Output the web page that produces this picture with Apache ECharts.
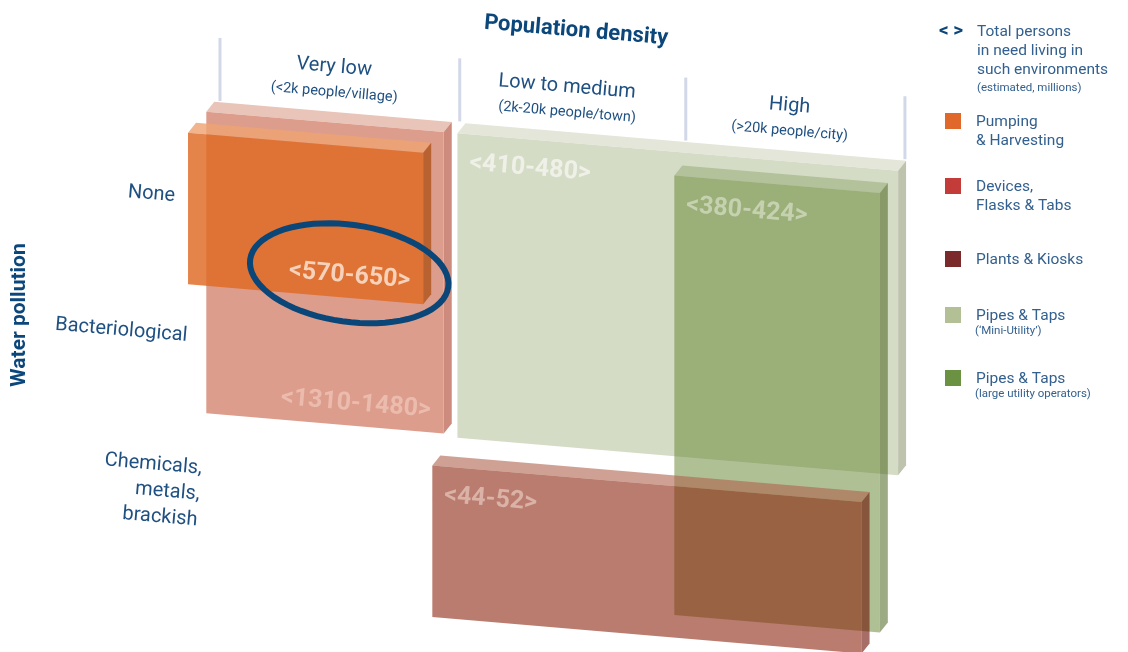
<!DOCTYPE html>
<html>
<head>
<meta charset="utf-8">
<script src="https://cdn.jsdelivr.net/npm/echarts@6/dist/echarts.min.js"></script>
<style>
  html, body { margin: 0; background: #fff; }
  #chart { width: 1128px; height: 652px; }
</style>
</head>
<body>
<div id="chart"></div>
<script>
// columns: population density
const densityNames = ['Very low', 'Low to medium', 'High']
const densityNotes = ['(<2k people/village)', '(2k-20k people/town)', '(>20k people/city)']
const densityEdges = [0, 1.05, 2.04, 3]
// rows: water pollution
const pollutionNames = ['None', 'Bacteriological', 'Chemicals,\nmetals,\nbrackish']

// solutions (legend)
const solutionNames = ['Pumping\n& Harvesting', 'Devices,\nFlasks & Tabs', 'Plants & Kiosks', 'Pipes & Taps', 'Pipes & Taps']
const solutionNotes = ['', '', '', '(\u2018Mini-Utility\u2019)', '(large utility operators)']
const solutionColors = ['#e0682a', '#c43c3a', '#7a2a2b', '#b3c095', '#6b9142']

// slabs, back to front: which solution, extent in column / row units, persons in need (millions)
const slabSolution = [1, 0, 3, 4, 2]
const slabX0 = [-0.06, -0.14, 1.04, 1.99, 0.93]
const slabX1 = [0.98, 0.89, 2.97, 2.89, 2.81]
const slabY0 = [0, 0.15, 0, 0.16, 2.23]
const slabY1 = [2.01, 1.16, 2.03, 3.09, 3.24]
const slabRange = ['<1310-1480>', '<570-650>', '<410-480>', '<380-424>', '<44-52>']
const slabCircled = [false, true, false, false, false]

// face colours per solution
const faceStyle = [
  { front: '#df6922', top: '#eea373', side: '#b0561f', opacity: 0.82, label: '#f6d2bb', at: 'br' },
  { front: '#dd9d8d', top: '#e9c4b8', side: '#cc8b7c', opacity: 1, label: '#ebbcae', at: 'br' },
  { front: '#8a250d', top: '#af624e', side: '#6b0d00', opacity: 0.6, label: '#dbb2a7', at: 'tl' },
  { front: '#d5dcc6', top: '#e3e6d8', side: '#bec3ad', opacity: 1, label: '#eff1e8', at: 'tl' },
  { front: '#61812b', top: '#91a86e', side: '#39580a', opacity: 0.5, label: '#c6d1b0', at: 'tl' }
]

const K = 0.085           // slant of the drawing
const DEPTH = [8, -10]    // slab thickness
const TILT = -Math.atan(K)
const FONT = 'Roboto, "Noto Sans", sans-serif'
const DARK = '#0c477b'
const TEXT = '#1f5082'
const LEGEND_TEXT = '#33608f'
const rowLabelDy = [0.08, 0.005, 0.055]

function proj (api, x, y) {
  const p = api.coord([x, y])
  const o = api.coord([0, 0])
  return [p[0], p[1] + K * (p[0] - o[0])]
}
function shift (p, d) { return [p[0] + d[0], p[1] + d[1]] }

const chart = echarts.init(document.getElementById('chart'))

const slabSeries = {
  type: 'custom',
  name: 'slabs',
  silent: true,
  data: slabX0.map((x, i) => [x, slabY0[i], slabX1[i], slabY1[i]]),
  renderItem (params, api) {
    const i = params.dataIndex
    const s = faceStyle[slabSolution[i]]
    const x0 = api.value(0), y0 = api.value(1), x1 = api.value(2), y1 = api.value(3)
    const tl = proj(api, x0, y0), tr = proj(api, x1, y0)
    const br = proj(api, x1, y1), bl = proj(api, x0, y1)
    const face = (fill) => ({ fill, opacity: s.opacity })
    const children = [
      { type: 'polygon', shape: { points: [tl, tr, shift(tr, DEPTH), shift(tl, DEPTH)] }, style: face(s.top) },
      { type: 'polygon', shape: { points: [tr, br, shift(br, DEPTH), shift(tr, DEPTH)] }, style: face(s.side) },
      { type: 'polygon', shape: { points: [tl, tr, br, bl] }, style: face(s.front) }
    ]
    let lx, ly, align
    if (s.at === 'tl') {
      lx = tl[0] + 12; ly = tl[1] + K * 12 + 29; align = 'left'
    } else {
      lx = br[0] - 13; ly = br[1] - K * 13 - 22; align = 'right'
    }
    children.push({
      type: 'text', x: lx, y: ly, rotation: TILT,
      style: { text: slabRange[i], fill: s.label, fontSize: 25, fontWeight: 'bold', fontFamily: FONT, align, verticalAlign: 'middle' }
    })
    if (slabCircled[i]) {
      const cx = br[0] - 74, cy = br[1] - 31, rx = 100, ry = 48.5, a = 8 * Math.PI / 180
      const pts = []
      for (let t = 0; t < 72; t++) {
        const th = t / 72 * Math.PI * 2
        pts.push([cx + rx * Math.cos(th) * Math.cos(a) - ry * Math.sin(th) * Math.sin(a),
          cy + rx * Math.cos(th) * Math.sin(a) + ry * Math.sin(th) * Math.cos(a)])
      }
      children.push({ type: 'polygon', shape: { points: pts }, style: { fill: 'none', stroke: '#0b4679', lineWidth: 6 } })
    }
    return { type: 'group', children }
  }
}

const headerSeries = {
  type: 'custom',
  name: 'density',
  silent: true,
  data: densityNames.map((n, i) => [densityEdges[i], densityEdges[i + 1]]),
  renderItem (params, api) {
    const i = params.dataIndex
    const a = api.value(0), b = api.value(1), mid = (a + b) / 2 - 0.025
    const line = (x) => ({
      type: 'line',
      shape: { x1: proj(api, x, -0.5)[0], y1: proj(api, x, -0.5)[1], x2: proj(api, x, -0.08)[0], y2: proj(api, x, -0.08)[1] },
      style: { stroke: '#d3d8e8', lineWidth: 3 }
    })
    const p1 = proj(api, mid, -0.37), p2 = proj(api, mid, -0.2)
    const children = [
      line(a),
      { type: 'text', x: p1[0], y: p1[1], rotation: TILT, style: { text: densityNames[i], fill: TEXT, fontSize: 20, fontFamily: FONT, align: 'center', verticalAlign: 'middle' } },
      { type: 'text', x: p2[0], y: p2[1], rotation: TILT, style: { text: densityNotes[i], fill: TEXT, fontSize: 14.5, fontFamily: FONT, align: 'center', verticalAlign: 'middle' } }
    ]
    if (i === densityNames.length - 1) children.push(line(b))
    return { type: 'group', children }
  }
}

const rowSeries = {
  type: 'custom',
  name: 'pollution',
  silent: true,
  data: pollutionNames.map((n, i) => [i]),
  renderItem (params, api) {
    const r = api.value(0) + 0.5
    const p = proj(api, -0.224 + 0.054 * r, r + rowLabelDy[params.dataIndex])
    return {
      type: 'text', x: p[0], y: p[1], rotation: TILT,
      style: { text: pollutionNames[params.dataIndex], fill: TEXT, fontSize: 20, lineHeight: 26, fontFamily: FONT, align: 'right', verticalAlign: 'middle' }
    }
  }
}

// legend built from the solution lists
const legendTop = [113, 178, 251, 307, 370]
const legendItems = []
solutionNames.forEach((name, i) => {
  const top = legendTop[i]
  const lines = name.split('\n').length
  legendItems.push({ type: 'rect', shape: { x: 945, y: top, width: 16, height: 16 }, style: { fill: solutionColors[i] } })
  legendItems.push({ type: 'text', x: 976, y: top - 0.5, style: { text: name, fill: LEGEND_TEXT, fontSize: 15.5, lineHeight: 19, fontFamily: FONT, verticalAlign: 'top' } })
  if (solutionNotes[i]) {
    legendItems.push({ type: 'text', x: 975, y: top + 9 + 19 * (lines - 1) + 8, style: { text: solutionNotes[i], fill: LEGEND_TEXT, fontSize: 11.5, lineHeight: 14, fontFamily: FONT, verticalAlign: 'top' } })
  }
})

chart.setOption({
  animation: false,
  grid: { left: 174.33, right: 177.4, top: 38, bottom: 14 },
  xAxis: { type: 'value', min: -0.2, max: 3.2, show: false },
  yAxis: { type: 'value', min: -0.5, max: 3.5, inverse: true, show: false },
  graphic: [
    { type: 'text', x: 576, y: 31, rotation: TILT, style: { text: 'Population density', fill: DARK, fontSize: 22, fontWeight: 'bold', fontFamily: FONT, align: 'center', verticalAlign: 'middle' } },
    { type: 'text', x: 20, y: 315, rotation: Math.PI / 2, style: { text: 'Water pollution', fill: DARK, fontSize: 21, fontWeight: 'bold', fontFamily: FONT, align: 'center', verticalAlign: 'middle' } },
    { type: 'text', x: 951, y: 31, style: { text: '< >', fill: DARK, fontSize: 19, fontWeight: 'bold', fontFamily: FONT, align: 'center', verticalAlign: 'middle' } },
    { type: 'text', x: 977, y: 22.5, style: { text: 'Total persons\nin need living in\nsuch environments', fill: LEGEND_TEXT, fontSize: 15.5, lineHeight: 19, fontFamily: FONT, verticalAlign: 'top' } },
    { type: 'text', x: 977, y: 81, style: { text: '(estimated, millions)', fill: LEGEND_TEXT, fontSize: 11.5, lineHeight: 14, fontFamily: FONT, verticalAlign: 'top' } },
    ...legendItems
  ],
  series: [headerSeries, rowSeries, slabSeries]
})
</script>
</body>
</html>
